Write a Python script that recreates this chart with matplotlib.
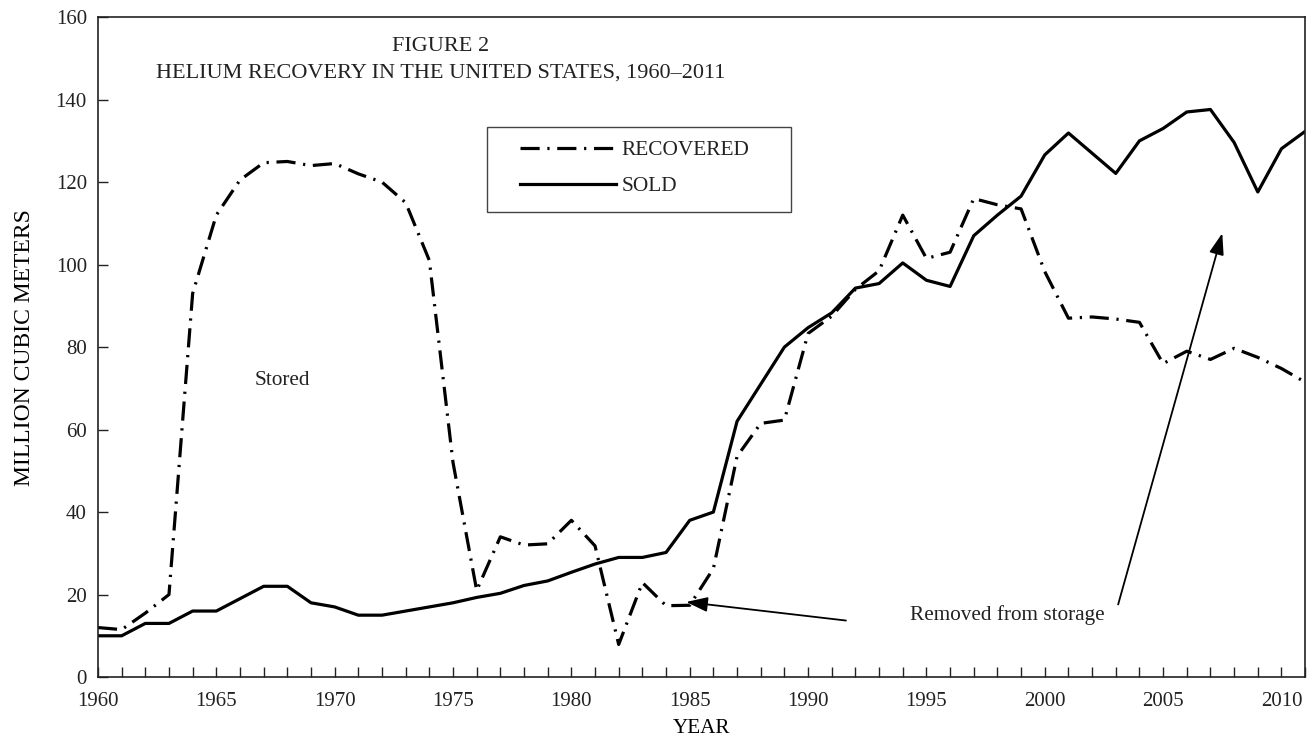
import matplotlib
matplotlib.use("Agg")
import matplotlib.pyplot as plt
from matplotlib.ticker import MultipleLocator
from matplotlib.patches import Rectangle

## Data (million cubic meters)

years = list(range(1960, 2012))

recovered = [12, 11.5, 15.5, 20, 93, 112, 120.5, 124.7, 125, 124,
             124.5, 122, 120, 115, 101, 52, 21, 34, 32, 32.3,
             38, 31.8, 7.9, 22.9, 17.3, 17.4, 26.3, 53.5, 61.5, 62.3,
             83.3, 87.5, 94, 98.5, 112, 101.5, 103, 116, 114.5, 113.5,
             98.3, 87, 87.3, 86.8, 86, 76, 79, 77, 79.7, 77.5,
             74.8, 71.5]

sold = [10, 10, 13, 13, 16, 16, 19, 22, 22, 18,
        17, 15, 15, 16, 17, 18, 19.3, 20.3, 22.2, 23.3,
        25.4, 27.4, 29, 29, 30.2, 38, 40, 62, 71, 80,
        84.7, 88.3, 94.3, 95.4, 100.4, 96.2, 94.7, 107, 112, 116.6,
        126.6, 131.9, 127, 122.1, 130, 133, 137, 137.6, 129.6, 117.6,
        128.1, 132.3]

title_lines = ["FIGURE 2", "HELIUM RECOVERY IN THE UNITED STATES, 1960\u20132011"]

## Plot

plt.rcParams["font.family"] = ["Liberation Serif", "DejaVu Serif"]
plt.rcParams["text.color"] = "#222222"

fig = plt.figure(figsize=(13.15, 7.44), dpi=100)
ax = fig.add_axes([0.0745, 0.090, 0.918, 0.887])

ax.plot(years, recovered, color="black", lw=2.3,
        linestyle=(0, (6, 2.4, 0.7, 2.4)), label="RECOVERED")
ax.plot(years, sold, color="black", lw=2.3, label="SOLD")

ax.set_xlim(1960, 2011)
ax.set_ylim(0, 160)
ax.xaxis.set_major_locator(MultipleLocator(5))
ax.xaxis.set_minor_locator(MultipleLocator(1))
ax.yaxis.set_major_locator(MultipleLocator(20))
ax.tick_params(axis="both", which="both", direction="in", labelsize=15,
               colors="#222222")
ax.tick_params(axis="x", which="both", length=7, width=1, pad=11)
ax.tick_params(axis="y", length=7, width=1, pad=8)
for s in ax.spines.values():
    s.set_linewidth(1.2)
    s.set_color("#222222")

ax.set_xlabel("YEAR", fontsize=15.2)
ax.xaxis.set_label_coords(0.500, -0.0775)
ax.xaxis.label.set_va("center")
ax.set_ylabel("MILLION CUBIC METERS", fontsize=17)
ax.yaxis.set_label_coords(-0.061, 0.5)
ax.yaxis.label.set_va("center")

ax.text(0.284, 0.956, title_lines[0], transform=ax.transAxes,
        ha="center", va="center", fontsize=16)
ax.text(0.284, 0.915, title_lines[1], transform=ax.transAxes,
        ha="center", va="center", fontsize=16)

## legend box drawn separately so the padding matches
ax.add_patch(Rectangle((0.3223, 0.7045), 0.2519, 0.1288, transform=ax.transAxes,
                       fill=False, edgecolor="#444444", lw=1.0, zorder=3))
leg = ax.legend(loc="center left", bbox_to_anchor=(0.3496, 0.7712),
                fontsize=15.4, handlelength=4.5, handletextpad=0.25,
                borderpad=0, labelspacing=0.75, frameon=False,
                borderaxespad=0)
for t in leg.get_texts():
    t.set_color("#222222")

ax.text(1967.8, 72, "Stored", ha="center", va="center", fontsize=15.3)
ax.text(1998.4, 15, "Removed from storage", ha="center", va="center",
        fontsize=15.3)

arrow = dict(arrowstyle="-|>,head_length=1.3,head_width=0.45",
             color="black", lw=1.3, shrinkA=0, shrinkB=0)
ax.annotate("", xy=(1984.85, 18.2), xytext=(1991.6, 13.7), arrowprops=arrow)
ax.annotate("", xy=(2007.5, 107.6), xytext=(2003.1, 17.6), arrowprops=arrow)

plt.savefig("out.png", dpi=100)
